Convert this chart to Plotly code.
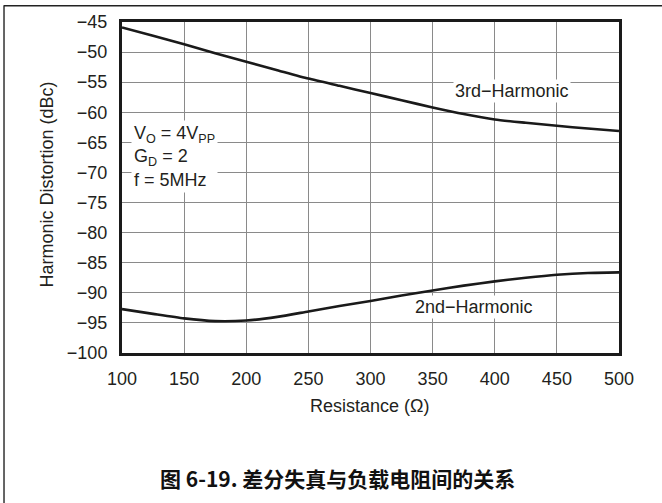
import plotly.graph_objects as go

# Load resistance (ohm)
resistance = [100, 125, 150, 175, 200, 225, 250, 275, 300, 325, 350, 375, 400, 425, 450, 475, 500]

# Harmonic distortion (dBc)
hd3 = [-45.9, -47.3, -48.7, -50.2, -51.6, -53.0, -54.4, -55.6, -56.8, -58.0, -59.2, -60.3, -61.2, -61.75, -62.25, -62.7, -63.1]
hd2 = [-92.7, -93.5, -94.25, -94.7, -94.6, -94.0, -93.1, -92.2, -91.35, -90.45, -89.6, -88.8, -88.1, -87.5, -87.0, -86.7, -86.6]

x_ticks = [100, 150, 200, 250, 300, 350, 400, 450, 500]
y_ticks = [-45, -50, -55, -60, -65, -70, -75, -80, -85, -90, -95, -100]

FONT = "Liberation Sans, Arial, sans-serif"
TXT = "#231f20"
FS = 18

fig = go.Figure()
for ys in (hd3, hd2):
    fig.add_trace(go.Scatter(
        x=resistance, y=ys, mode="lines",
        line=dict(color="#1a1a1a", width=2.6, shape="spline", smoothing=0.6),
        showlegend=False, hoverinfo="skip",
    ))

axis_common = dict(
    showgrid=True, gridcolor="#8a8a8a", gridwidth=1,
    showline=True, linecolor="#1a1a1a", linewidth=3, mirror=True,
    ticks="", zeroline=False,
    tickfont=dict(family=FONT, size=FS, color=TXT),
)

fig.update_xaxes(range=[100, 500], tickvals=x_ticks, ticklabelstandoff=7, **axis_common)
fig.update_yaxes(range=[-100, -45], tickvals=y_ticks, ticklabelstandoff=8, **axis_common)

txt_font = dict(family=FONT, size=FS, color=TXT)
annotations = [
    dict(x=414, y=-56.4, xref="x", yref="y", text="3rd\u2212Harmonic",
         showarrow=False, bgcolor="white", font=txt_font),
    dict(x=383, y=-92.3, xref="x", yref="y", text="2nd\u2212Harmonic",
         showarrow=False, bgcolor="white", font=txt_font),
    dict(x=107, y=-67.4, xref="x", yref="y", xanchor="left", yanchor="middle", align="left",
         text="V<sub>O</sub> = 4V<sub>PP</sub><br>G<sub>D</sub> = 2<br>f = 5MHz",
         showarrow=False, bgcolor="white", borderpad=2, font=txt_font),
    dict(x=0.498, y=-0.1607, xref="paper", yref="paper", xanchor="center", yanchor="middle",
         text="Resistance (\u03a9)", showarrow=False, font=txt_font),
    dict(x=-0.1509, y=0.509, xref="paper", yref="paper", xanchor="center", yanchor="middle",
         text="Harmonic Distortion (dBc)", textangle=-90, showarrow=False, font=txt_font),
    dict(x=0.4336, y=-0.3765, xref="paper", yref="paper", xanchor="center", yanchor="middle",
         text="<b>图 6-19. 差分失真与负载电阻间的关系</b>",
         showarrow=False, font=dict(family="Noto Sans CJK SC, sans-serif", size=21, color="#111")),
]

# frame around the figure (left and top edges)
shapes = [
    dict(type="line", xref="paper", yref="paper", x0=-0.2374, x1=-0.2374, y0=-0.46, y1=1.0506,
         line=dict(color="#333", width=1.5)),
    dict(type="line", xref="paper", yref="paper", x0=-0.2374, x1=1.1, y0=1.0491, y1=1.0491,
         line=dict(color="#222", width=1.5)),
]

fig.update_layout(
    width=662, height=503,
    margin=dict(l=122, r=43, t=17, b=150),
    paper_bgcolor="white", plot_bgcolor="white",
    annotations=annotations, shapes=shapes,
)

fig.write_html("out.html")
